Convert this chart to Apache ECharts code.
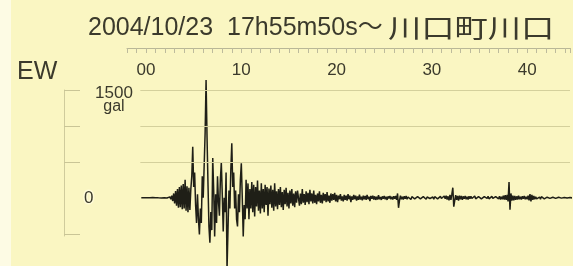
<!DOCTYPE html>
<html>
<head>
<meta charset="utf-8">
<script src="https://cdn.jsdelivr.net/npm/echarts@6/dist/echarts.min.js"></script>
<style>
  html, body { margin: 0; padding: 0; background: #fdfbe4; }
  #chart { width: 573px; height: 266px; }
</style>
</head>
<body>
<div id="chart"></div>
<script>
// EW acceleration trace (gal), one sample every 0.1 s starting at -0.5 s
const tStart = -0.5;
const dt = 0.1;

const quiet = [0, 1, -1, 0, 2, -1, 0, 1, -2, 1, 0, -1, 2, -1, 0, 1, -2, 2, -1, 0,
  1, -2, 3, -2, 1, -3, 4, -3, 5, -6];
const pWave = [12, -20, 30, -45, 60, -80, 95, -110, 120, -140, 150, -130, 170, -160, 190, -150,
  250, -180, 160, -200, 140, -170, 120];
const strong = [300, 710, 150, 350, -100, -350, 50, -300, -510, -150,
  -350, 300, 0, 450, 900, 1640, 850, 200, -400, -625,
  -200, -450, 555, 100, -540, 50, -350, 300, -50, -250,
  250, 490, 50, -470, 0, -200, 350, -1000, -450, 100,
  -150, 400, 760, 150, 350, -150, 100, -300, -400, 50,
  -200, 250, 480, 0, -540, -100, -300, 250, -150, 200,
  -300, 120];
const coda1 = [-150, 220, -200, 180, -260, 150, -120, 240, -180, 100,
  -220, 200, -150, 120, -200, 180, -100, 150, -250, 130,
  -90, 170, -140, 110, -180, 200, -120, 90, -160, 120,
  -100, 150, -130, 80, -170, 110, -90, 140, -120, 70,
  -150, 100, -80, 120, -110, 60, -130, 90, -70, 100];
const coda2 = [80, -110, 60, -90, 120, -70, 50, -100, 90, -60,
  70, -90, 110, -50, 60, -80, 100, -70, 40, -90,
  60, -50, 90, -70, 40, -80, 70, -40, 50, -60,
  80, -50, 30, -70, 60, -40, 50, -30, 70, -50,
  40, -60, 30, -20, 50, -40, 20, -50, 40, -30,
  30, -40, 50, -20, 30, -60, 20, -30, 40, -20,
  30, -40, 20, -30, 45, -25, 15, -35, 30, -20,
  25, -30, 40, -20, 15, -45, 25, -15, 30, -25,
  20, -30, 15, -25, 35, -20, 10, -30, 20, -15,
  25, -20, 15, -30, 20, -10, 25, -20, 15, -25];
const tail = [20, -15, 25, -30, 60, -140, -40, 30, -20, 15,
  -25, 20, -15, 25, -20, 10, -15, 20, -25, 15,
  -10, 20, -15, 10, -20, 15, -10, 20, -15, 10,
  -20, 15, -10, 15, -20, 10, -15, 20, -10, 15,
  -15, 10, -20, 15, -10, 20, -15, 10, -15, 20,
  -10, 15, -20, 25, -15, 30, -25, 20, -35, 40,
  -30, 50, 140, -125, -40, 35, -30, 25, -40, 30,
  -20, 25, -30, 20, -15, 25, -20, 15, -25, 20,
  -15, 20, -10, 15, -20, 25, -15, 10, -20, 15,
  -10, 15, -15, 10, -20, 15, -10, 15, -10, 20,
  -15, 10, -15, 20, -10, 15, -20, 15, -10, 20,
  -15, 20, -25, 15, -20, 30, -25, 35, -30, 40,
  -50, 220, -165, 60, -40, 30, -35, 25, -30, 20,
  -25, 30, -20, 15, -25, 20, -15, 25, -20, 15,
  -20, 30, -35, 50, -50, 40, -30, 25, -20, 15,
  -15, 10, -15, 10, -20, 15, -10, 10, -15, 10,
  -10, 8, -12, 10, -8, 12, -10, 8, -6, 10,
  -8, 6, -10, 8, -6, 8, -5, 6, -8, 5,
  -6, 5, -4, 6, -5, 4, -6, 3, -4, 5,
  -3, 4, -3, 2, -4, 3, -2, 3, -2, 2];

const gridLevels = [1500, 1000, 500];
const scaleTicks = [1500, 1000, 500, -500];
const scaleLabels = [1500, 0];

const trace = [].concat(quiet, pWave, strong, coda1, coda2, tail);
const points = trace.map((v, i) => [+(tStart + i * dt).toFixed(2), v]);

const textColor = '#3b3a2c';
const chart = echarts.init(document.getElementById('chart'));

chart.setOption({
  backgroundColor: '#faf6c2',
  animation: false,
  graphic: [
    { type: 'rect', left: 0, top: 0, shape: { width: 11, height: 266 }, style: { fill: '#fdfbe4' }, silent: true },
    {
      type: 'text', x: 88, y: 28,
      style: { text: '2004/10/23  17h55m50s～', fill: textColor, font: '25px "Liberation Sans", "Noto Sans CJK JP"', verticalAlign: 'middle' }
    },
    {
      type: 'text', x: 388, y: 28, scaleX: 1.28,
      style: { text: '川口町川口', fill: textColor, font: '26px "Noto Sans CJK JP"', verticalAlign: 'middle' }
    },
    {
      type: 'text', x: 17, y: 72,
      style: { text: 'EW', fill: textColor, font: '25px "Liberation Sans"', verticalAlign: 'middle' }
    }
  ],
  grid: [
    { left: 127, right: 0, top: 48, bottom: 0 },
    { left: 64, top: 90, height: 146, width: 10 }
  ],
  xAxis: [
    {
      gridIndex: 0, type: 'value', position: 'top',
      min: -2, max: 44.5, interval: 1,
      axisLine: { show: true, onZero: false, lineStyle: { color: '#b9b796', width: 1 } },
      axisTick: { show: true, inside: true, length: 5, lineStyle: { color: '#bdbb9c' } },
      axisLabel: {
        inside: true, margin: 14, color: textColor, fontSize: 17, fontFamily: '"Liberation Sans"',
        formatter: v => (v % 10 === 0 ? (v === 0 ? '00' : String(v)) : '')
      },
      splitLine: { show: false }
    },
    { gridIndex: 1, type: 'value', show: false, min: 0, max: 1 }
  ],
  yAxis: [
    { gridIndex: 0, type: 'value', min: -950, max: 2085, show: false },
    {
      gridIndex: 1, type: 'value', position: 'left', min: -520, max: 1500,
      axisLine: { show: true, lineStyle: { color: '#cfcb9c', width: 1 } },
      axisTick: { show: true, inside: true, length: 16, customValues: scaleTicks, lineStyle: { color: '#c9c596' } },
      axisLabel: {
        inside: true, margin: 20, customValues: scaleLabels, color: textColor,
        fontFamily: '"Liberation Sans"',
        formatter: v => (v === 0 ? '{z|0}' : '{e| }\n{n|' + v + '}\n{u|gal}'),
        rich: {
          e: { fontSize: 4, lineHeight: 20 },
          n: { fontSize: 17, lineHeight: 14, width: 42, align: 'center', padding: [0, 0, 0, 9], color: textColor },
          u: { fontSize: 16, lineHeight: 14, width: 42, align: 'center', padding: [0, 0, 0, 9], color: textColor },
          z: { fontSize: 17, color: textColor, textBorderColor: '#fffbd8', textBorderWidth: 3 }
        }
      },
      splitLine: { show: false }
    }
  ],
  series: [{
    type: 'line',
    xAxisIndex: 0, yAxisIndex: 0,
    data: points,
    showSymbol: false,
    lineStyle: { color: '#1f1f17', width: 1.5 },
    z: 3,
    markLine: {
      silent: true,
      symbol: 'none',
      label: { show: false },
      lineStyle: { color: '#d4d09c', width: 1, type: 'solid' },
      data: gridLevels.map(g => [{ coord: [-0.6, g] }, { coord: [44.5, g] }])
    }
  }]
});
</script>
</body>
</html>
